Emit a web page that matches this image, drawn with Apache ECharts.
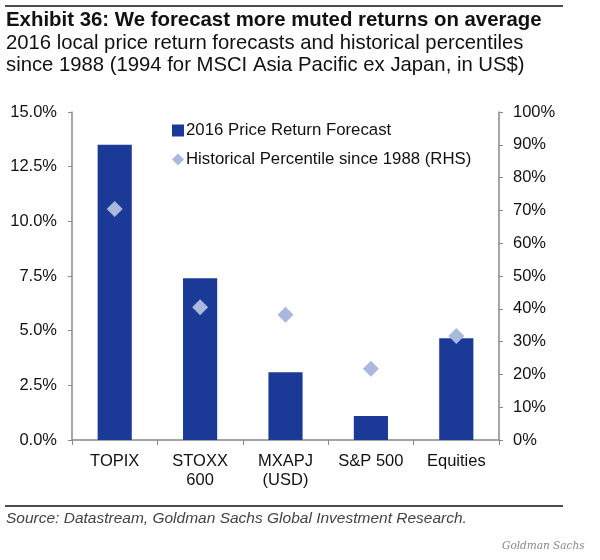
<!DOCTYPE html>
<html><head><meta charset="utf-8">
<script src="https://cdn.jsdelivr.net/npm/echarts@6/dist/echarts.min.js"></script>
<style>html,body{margin:0;padding:0;background:#fff}#c{width:600px;height:560px}</style>
</head><body><div id="c"></div>
<script>
var categories = ['TOPIX', 'STOXX\n600', 'MXAPJ\n(USD)', 'S&P 500', 'Equities'];
var forecast = [13.5, 7.4, 3.1, 1.1, 4.65];
var percentile = [70.4, 40.5, 38.2, 21.7, 31.7];
var leftTicks = [0, 15, 2.5];
var rightTicks = [0, 100, 10];

var chart = echarts.init(document.getElementById('c'));
var font = 'Liberation Sans, Arial, sans-serif';
chart.setOption({
  animation: false,
  textStyle: {fontFamily: font},
  title: [
    {text: 'Exhibit 36: We forecast more muted returns on average', left: 6, top: 10, padding: 0,
     textStyle: {fontFamily: font, fontSize: 20.4, fontWeight: 'bold', color: '#111'}},
    {text: '2016 local price return forecasts and historical percentiles\nsince 1988 (1994 for MSCI Asia Pacific ex Japan, in US$)', left: 6, top: 32, padding: 0,
     textStyle: {fontFamily: font, fontSize: 20.3, fontWeight: 'normal', color: '#111', lineHeight: 22}},
    {text: 'Source: Datastream, Goldman Sachs Global Investment Research.', left: 6, top: 511, padding: 0,
     textStyle: {fontFamily: font, fontSize: 15.5, fontStyle: 'italic', fontWeight: 'normal', color: '#444'}},
    {text: 'Goldman Sachs', left: 502, top: 541, padding: 0,
     textStyle: {fontFamily: 'DejaVu Serif, serif', fontSize: 10.5, fontStyle: 'italic', fontWeight: 'normal', color: '#888'}}
  ],
  graphic: [
    {type: 'line', shape: {x1: 5, y1: 6, x2: 563, y2: 6}, style: {stroke: '#111', lineWidth: 1.5}},
    {type: 'line', shape: {x1: 5, y1: 506, x2: 563, y2: 506}, style: {stroke: '#111', lineWidth: 1.5}}
  ],
  legend: {
    orient: 'vertical', left: 172, top: 122, itemGap: 12, itemWidth: 12, itemHeight: 12, padding: 0,
    textStyle: {fontFamily: font, fontSize: 16.8, color: '#111', padding: [0, 0, 0, -3]},
    data: [
      {name: '2016 Price Return Forecast', icon: 'rect', itemStyle: {}},
      {name: 'Historical Percentile since 1988 (RHS)', icon: 'diamond'}
    ]
  },
  grid: {left: 72, right: 101, top: 112, bottom: 120, containLabel: false},
  xAxis: {
    type: 'category', data: categories,
    axisLine: {lineStyle: {color: '#888', width: 1.5}},
    axisTick: {show: true, length: 5, lineStyle: {color: '#888'}},
    axisLabel: {fontFamily: font, fontSize: 16.5, color: '#111', margin: 12, lineHeight: 19, interval: 0}
  },
  yAxis: [
    {type: 'value', min: leftTicks[0], max: leftTicks[1], interval: leftTicks[2],
     axisLine: {show: true, lineStyle: {color: '#888', width: 1.5}},
     axisTick: {show: true, length: 4, lineStyle: {color: '#888'}},
     splitLine: {show: false},
     axisLabel: {fontFamily: font, fontSize: 16.5, color: '#111', margin: 15,
                 formatter: function (v) { return v.toFixed(1) + '%'; }}},
    {type: 'value', min: rightTicks[0], max: rightTicks[1], interval: rightTicks[2], position: 'right',
     axisLine: {show: true, lineStyle: {color: '#888', width: 1.5}},
     axisTick: {show: true, length: 4, lineStyle: {color: '#888'}},
     splitLine: {show: false},
     axisLabel: {fontFamily: font, fontSize: 16.5, color: '#111', margin: 14, formatter: '{value}%'}}
  ],
  series: [
    {name: '2016 Price Return Forecast', type: 'bar', data: forecast, barWidth: '40%',
     itemStyle: {color: '#1b3a98'}, yAxisIndex: 0},
    {name: 'Historical Percentile since 1988 (RHS)', type: 'scatter', data: percentile, yAxisIndex: 1,
     symbol: 'diamond', symbolSize: [16, 16], itemStyle: {color: '#a9b8dc', opacity: 1}, z: 3}
  ]
});
</script></body></html>
